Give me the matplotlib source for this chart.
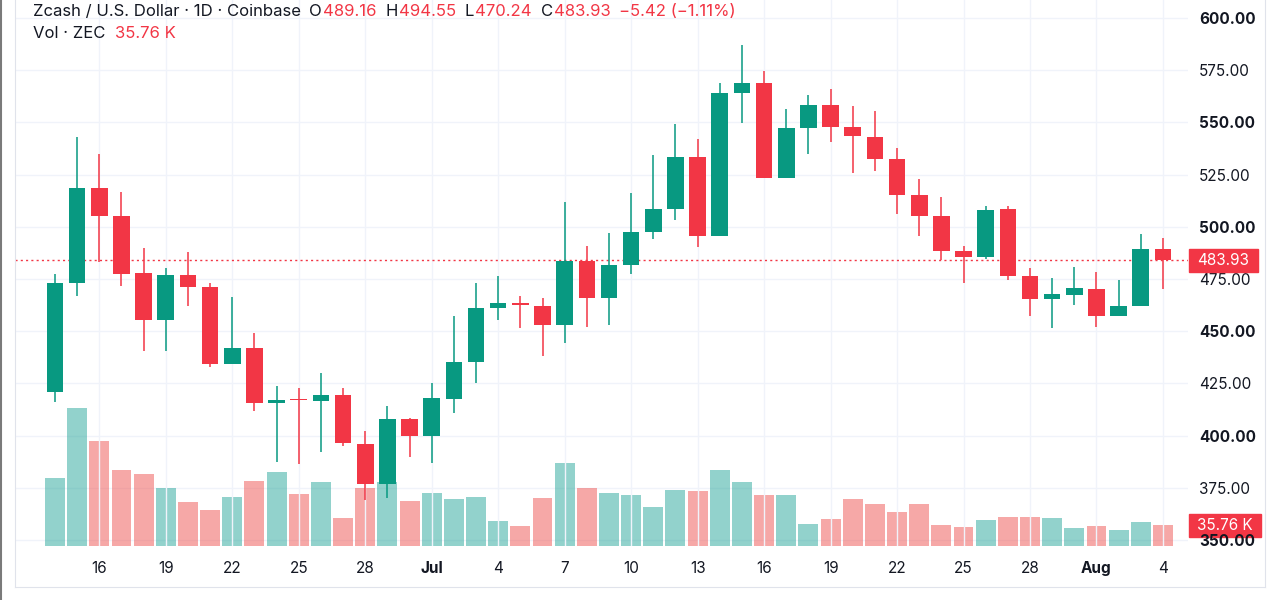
import numpy as np
import matplotlib
matplotlib.use('Agg')
import matplotlib.pyplot as plt
from matplotlib.lines import Line2D
from matplotlib.patches import Rectangle
from matplotlib.transforms import blended_transform_factory

plt.rcParams['font.family'] = ['Inter', 'DejaVu Sans']

#DATOS (velas diarias ZEC/USD, 14 jun - 4 ago)
apertura = [421, 473, 518.4, 505, 477.7, 455.4, 477, 471.3, 434.3, 442,
            415.8, 417.6, 416.6, 419.4, 396, 377, 407.8, 399.8, 417.5, 435,
            461.2, 463.3, 462.2, 453, 483.8, 466, 481.7, 497.5, 508.7, 533.6,
            495.6, 564, 569, 523.3, 547.3, 558.5, 547.6, 543.2, 532.5, 515.2,
            505, 488.4, 485.4, 508.4, 476.4, 465.3, 467.3, 470.2, 457.3, 461.9,
            489.16]
maximo = [477.4, 543.2, 534.7, 516.8, 490, 480.1, 487.8, 473, 466.2, 449,
          423.8, 422.6, 430.1, 422.8, 402.4, 414.2, 408.6, 425.3, 457.3, 473.2,
          476.6, 466.9, 465.8, 511.7, 491, 496.9, 516, 534.4, 549.1, 542,
          569, 587.2, 574.6, 556.3, 563.1, 565.8, 558, 555.6, 537.9, 523,
          514.1, 490.8, 510, 510, 480.4, 475.6, 480.9, 478.2, 474.5, 496.4,
          494.55]
minimo = [416.2, 466.9, 483, 471.8, 440.5, 440.5, 462.2, 432.7, 434.3, 411.8,
          387.5, 386.2, 392.3, 395.2, 369.2, 370, 389.6, 386.7, 410.7, 425.3,
          455.4, 451.4, 438.1, 444.2, 452.2, 453, 477.2, 494, 503.3, 490.2,
          495.6, 549.6, 523.2, 523.3, 534.7, 540.5, 525.6, 526.9, 506, 495.6,
          484.1, 472.9, 484.4, 474.5, 457.3, 451.4, 462.5, 451.9, 457.3, 461.9,
          470.24]
cierre = [473, 518.4, 505, 477.4, 455.4, 477, 471.3, 434.3, 441.8, 415.8,
          417.2, 417.2, 419.4, 396.3, 377, 407.8, 399.8, 418, 435, 461.3,
          463.4, 462.5, 453, 483.8, 466, 481.7, 497.7, 508.7, 533.6, 495.6,
          564, 569, 523.2, 547.5, 558.5, 547.6, 543.5, 532.5, 515.2, 505,
          488.4, 485.4, 508, 476.4, 465.3, 467.7, 470.5, 457.3, 461.9, 489.35,
          483.93]
volumen = [118, 239, 182, 131, 125, 101, 76.5, 62, 84, 112,
           128, 90, 110.5, 48, 101, 110, 78, 91, 80.7, 85,
           42.7, 34, 83, 143, 100, 91, 88, 67, 96.7, 94.5,
           131, 110.5, 88.6, 88.6, 38, 46, 81, 72.5, 58.7, 73,
           36.8, 33.3, 45.4, 50, 50, 47.8, 30.6, 34, 27, 42,
           35.76]  # miles de ZEC

etiquetas_dias = ['16', '19', '22', '25', '28', 'Jul', '4', '7', '10', '13',
                  '16', '19', '22', '25', '28', 'Aug', '4']
pos_dias = list(range(2, 51, 3))
niveles_precio = list(range(350, 601, 25))

ultimo_precio = cierre[-1]
ultimo_vol = volumen[-1]

#COLORES
verde = '#089981'
rojo = '#F23645'
verde_vol = '#26a69a'
rojo_vol = '#ef5350'
gris_grilla = '#f0f3fa'
texto_oscuro = '#131722'

W, H = 1280, 600
fig = plt.figure(figsize=(W / 100, H / 100), dpi=100)
fig.patch.set_facecolor('white')

# eje de volumen abajo, eje de precio encima (twinx)
ax_v = fig.add_axes([15 / W, 54 / H, 1173 / W, 546 / H])
ax_p = ax_v.twinx()

n = len(cierre)
x = np.arange(n)
sube = np.array(cierre) >= np.array(apertura)

ax_v.set_xlim(-1.805, 51.13)
ax_v.set_ylim(0, 943)
ax_p.set_ylim(347.1, 608.6)

# grilla
ax_v.set_xticks(pos_dias)
ax_v.set_xticklabels(etiquetas_dias)
ax_v.grid(axis='x', color=gris_grilla, lw=1, zorder=0)
for nivel in niveles_precio:
    ax_v.plot([-1.805, 51.13], [nivel, nivel], color=gris_grilla, lw=1,
              transform=ax_p.transData, zorder=0)

# volumen
colores_vol = [verde_vol if s else rojo_vol for s in sube]
ax_v.bar(x, volumen, width=0.9, color=colores_vol, alpha=0.5, zorder=1)

# velas
colores = [verde if s else rojo for s in sube]
ax_p.vlines(x, minimo, maximo, colors=colores, lw=1.1, zorder=3)
base = np.minimum(apertura, cierre)
alto = np.maximum(np.abs(np.array(cierre) - np.array(apertura)), 0.5)
ax_p.bar(x, alto, bottom=base, width=0.75, color=colores, zorder=4)

# linea del ultimo precio
ax_p.axhline(ultimo_precio, color=rojo, lw=1.0, ls=(0, (1.5, 2.3)), zorder=2)

# ejes
for a in (ax_v, ax_p):
    for s in a.spines.values():
        s.set_visible(False)
    a.set_facecolor('none')
ax_v.tick_params(axis='x', length=0, pad=11, labelsize=11, labelcolor=texto_oscuro)
ax_v.tick_params(axis='y', left=False, labelleft=False)
for lbl in ax_v.get_xticklabels():
    if lbl.get_text() in ('Jul', 'Aug'):
        lbl.set_fontweight('bold')

ax_p.set_yticks(niveles_precio)
ax_p.set_yticklabels(['{:.2f}'.format(v) for v in niveles_precio])
ax_p.tick_params(axis='y', length=0, pad=8, labelsize=11, labelcolor=texto_oscuro)
for v, lbl in zip(niveles_precio, ax_p.get_yticklabels()):
    if v % 50 == 0:
        lbl.set_fontweight('bold')

# etiquetas en el eje derecho
tr_p = blended_transform_factory(ax_p.transAxes, ax_p.transData)
tr_v = blended_transform_factory(ax_v.transAxes, ax_v.transData)
ax_p.add_patch(Rectangle((1.0009, ultimo_precio - 5.5), 69 / 1173, 11, transform=tr_p,
                         color=rojo, clip_on=False, zorder=5))
ax_p.text(1.0303, ultimo_precio, '{:.2f}'.format(ultimo_precio), transform=tr_p,
          color='white', fontsize=11, ha='center', va='center', zorder=6, clip_on=False)
ax_v.add_patch(Rectangle((1.0009, ultimo_vol - 19.8), 72 / 1173, 39.7, transform=tr_v,
                         color=rojo, clip_on=False, zorder=5))
ax_v.text(1.0315, ultimo_vol, '{:.2f} K'.format(ultimo_vol), transform=tr_v,
          color='white', fontsize=11, ha='center', va='center', zorder=6, clip_on=False)

# marco
gris_marco = '#e0e3eb'
fig.add_artist(Line2D([15 / W, 15 / W], [1, 1 - 587 / H], color=gris_marco, lw=0.8))
fig.add_artist(Line2D([15 / W, 1265 / W], [1 - 587 / H, 1 - 587 / H], color=gris_marco, lw=0.8))
fig.add_artist(Line2D([1265 / W, 1265 / W], [1, 1 - 587 / H], color=gris_marco, lw=0.8))
fig.add_artist(Line2D([0.8 / W, 0.8 / W], [0, 1], color='#7a7a7a', lw=1.5))

# cabecera (cambio respecto al cierre anterior)
cambio = cierre[-1] - cierre[-2]
cambio_pct = cambio / cierre[-2] * 100
linea1 = [('Zcash / U.S. Dollar · 1D · Coinbase', texto_oscuro, 8),
          ('O', texto_oscuro, 1), ('{:.2f}'.format(apertura[-1]), rojo, 9),
          ('H', texto_oscuro, 1), ('{:.2f}'.format(maximo[-1]), rojo, 9),
          ('L', texto_oscuro, 1), ('{:.2f}'.format(minimo[-1]), rojo, 9),
          ('C', texto_oscuro, 1), ('{:.2f}'.format(cierre[-1]), rojo, 8),
          ('{:.2f} ({:.2f}%)'.format(cambio, cambio_pct).replace('-', '\u2212'), rojo, 0)]
linea2 = [('Vol · ZEC', texto_oscuro, 10), ('{:.2f} K'.format(ultimo_vol), rojo, 0)]

renderer = fig.canvas.get_renderer()


def escribir(piezas, x0, y_base):
    xx = x0
    for texto, color, hueco in piezas:
        t = fig.text(xx / W, 1 - y_base / H, texto, color=color, fontsize=12,
                     ha='left', va='baseline')
        xx += t.get_window_extent(renderer).width + hueco


escribir(linea1, 33, 15.5)
escribir(linea2, 33, 38.5)

fig.savefig('out.png', dpi=100, facecolor='white')
